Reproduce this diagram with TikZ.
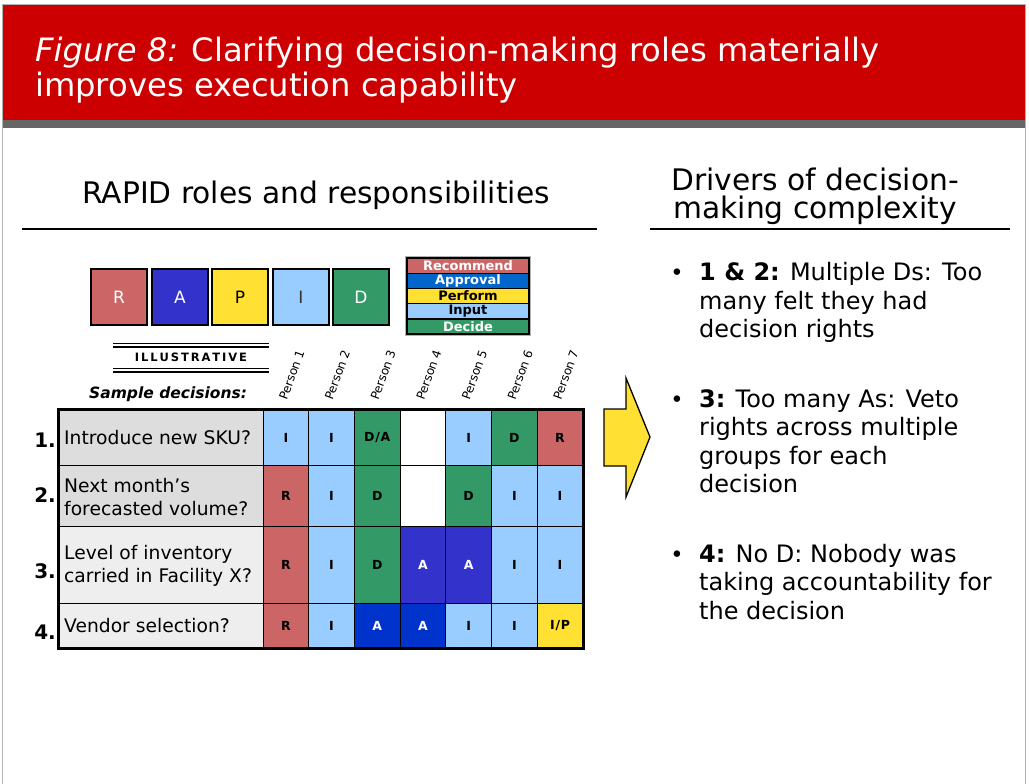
\documentclass[tikz,border=0pt]{standalone}
\usepackage{fontspec}
\setmainfont{DejaVu Sans}
\definecolor{bandred}{HTML}{CC0000}
\definecolor{barg}{HTML}{666666}
\definecolor{rR}{HTML}{CC6666}
\definecolor{rA}{HTML}{3333CC}
\definecolor{rAd}{HTML}{0033CC}
\definecolor{rAp}{HTML}{0066CC}
\definecolor{rP}{HTML}{FFE033}
\definecolor{rI}{HTML}{99CCFF}
\definecolor{rD}{HTML}{339966}
\definecolor{labA}{HTML}{DDDDDD}
\definecolor{labB}{HTML}{EEEEEE}
\tikzset{
  cellbox/.style={draw=black, line width=0.8pt, minimum width=45.7pt, inner sep=0pt, font=\fontsize{12.5}{13}\selectfont\bfseries},
  rapidbox/.style={draw=black, line width=1.5pt, minimum width=56pt, minimum height=56pt, inner sep=0pt, font=\fontsize{17}{20}\selectfont},
  legrow/.style={draw=black, line width=1.4pt, minimum width=122pt, minimum height=15.2pt, inner sep=0pt, font=\fontsize{13}{13}\selectfont\bfseries},
  labcell/.style={draw=black, line width=0.8pt, minimum width=204pt, inner sep=0pt},
  labtext/.style={anchor=west, align=left, inner sep=0pt, font=\fontsize{18.7}{23}\selectfont},
  rownum/.style={anchor=east, inner sep=0pt, font=\fontsize{20}{22}\selectfont\bfseries},
  person/.style={anchor=base west, rotate=70, inner sep=0pt, font=\fontsize{12}{12}\selectfont},
  bullettext/.style={anchor=base west, inner sep=0pt, font=\fontsize{24}{28.5}\selectfont},
  bulletdot/.style={anchor=base, inner sep=0pt, font=\fontsize{22.5}{28.5}\selectfont}
}
\newcommand{\tcell}[6]{\node[cellbox, fill=#5, minimum height={#4-#3}] (#1) at ({263+45.7*(#2-0.5)}, {(#3+#4)/2}) {#6};}
\begin{document}
\begin{tikzpicture}[x=1pt, y=-1pt]
\useasboundingbox (0,0) rectangle (1029,784);
% frame and title band
\draw[gray!60, line width=1pt] (2.5,4.5) rectangle (1025.5,800);
\fill[bandred] (3,5) rectangle (1025,120);
\fill[barg] (3,120) rectangle (1025,128);
\node[anchor=base west, inner sep=0pt, text=white, font=\fontsize{32.2}{35}\selectfont] (title1) at (35,62) {\itshape Figure 8:\upshape{} Clarifying decision-making roles materially};
\node[anchor=base west, inner sep=0pt, text=white, font=\fontsize{32.2}{35}\selectfont] (title2) at (35,97) {improves execution capability};
% headers
\node[anchor=base, inner sep=0pt, font=\fontsize{29.7}{34}\selectfont] (hleft) at (316,203) {RAPID roles and responsibilities};
\draw[line width=1.5pt] (22,229) -- (597,229);
\node[anchor=base, inner sep=0pt, font=\fontsize{29.7}{34}\selectfont] (hright1) at (815,190) {Drivers of decision-};
\node[anchor=base, inner sep=0pt, font=\fontsize{29.7}{34}\selectfont] (hright2) at (815,218) {making complexity};
\draw[line width=1.5pt] (650,229) -- (1010,229);
% RAPID boxes
\node[rapidbox, fill=rR, text=white] (bR) at (119,297) {R};
\node[rapidbox, fill=rA, text=white] (bA) at (180,297) {A};
\node[rapidbox, fill=rP, text=black] (bP) at (240,297) {P};
\node[rapidbox, fill=rI, text=black!80] (bI) at (301,297) {I};
\node[rapidbox, fill=rD, text=white] (bD) at (361,297) {D};
% legend
\node[legrow, fill=rR, text=white] (lR) at (468,265.6) {Recommend};
\node[legrow, fill=rAp, text=white] (lA) at (468,280.8) {Approval};
\node[legrow, fill=rP, text=black] (lP) at (468,296.0) {Perform};
\node[legrow, fill=rI, text=black] (lI) at (468,311.2) {Input};
\node[legrow, fill=rD, text=white] (lD) at (468,326.4) {Decide};
\draw[gray!60, line width=0.8pt] ([shift={(-1,-1)}]lR.north west) rectangle ([shift={(1,1)}]lD.south east);
% illustrative
\draw[line width=1.3pt] (113,343.5) -- (269,343.5);
\draw[line width=1.3pt] (113,347) -- (269,347);
\node[inner sep=0pt, font=\fontsize{11.5}{12}\selectfont\bfseries] (illus) at (191,357.5) {I\,L\,L\,U\,S\,T\,R\,A\,T\,I\,V\,E};
\draw[line width=1.3pt] (113,368.5) -- (269,368.5);
\draw[line width=1.3pt] (113,372) -- (269,372);
\node[anchor=base west, inner sep=0pt, font=\fontsize{15.5}{18}\selectfont\bfseries\itshape] (sample) at (89,398) {Sample decisions:};
% person labels
\foreach \i in {1,...,7} {
  \node[person] (p\i) at ({263+45.7*(\i-0.5)+1}, 401) {Person \i};
}
% label column
\node[labcell, fill=labA, minimum height=55pt] (lab1) at (161,437.5) {};
\node[labcell, fill=labA, minimum height=61pt] (lab2) at (161,495.5) {};
\node[labcell, fill=labB, minimum height=77pt] (lab3) at (161,564.5) {};
\node[labcell, fill=labB, minimum height=45pt] (lab4) at (161,625.5) {};
\node[labtext] (t1) at (64,438) {Introduce new SKU?};
\node[labtext] (t2) at (64,497) {Next month’s\\forecasted volume?};
\node[labtext] (t3) at (64,566) {Level of inventory\\carried in Facility X?};
\node[labtext] (t4) at (64,626) {Vendor selection?};
\node[rownum] (n1) at (56,440) {1.};
\node[rownum] (n2) at (56,495) {2.};
\node[rownum] (n3) at (56,571) {3.};
\node[rownum] (n4) at (56,632) {4.};
% row 1
\tcell{c11}{1}{410}{465}{rI}{I}
\tcell{c12}{2}{410}{465}{rI}{I}
\tcell{c13}{3}{410}{465}{rD}{D\kern0.8pt/\kern0.8pt A}
\tcell{c14}{4}{410}{465}{white}{}
\tcell{c15}{5}{410}{465}{rI}{I}
\tcell{c16}{6}{410}{465}{rD}{D}
\tcell{c17}{7}{410}{465}{rR}{R}
% row 2
\tcell{c21}{1}{465}{526}{rR}{R}
\tcell{c22}{2}{465}{526}{rI}{I}
\tcell{c23}{3}{465}{526}{rD}{D}
\tcell{c24}{4}{465}{526}{white}{}
\tcell{c25}{5}{465}{526}{rD}{D}
\tcell{c26}{6}{465}{526}{rI}{I}
\tcell{c27}{7}{465}{526}{rI}{I}
% row 3
\tcell{c31}{1}{526}{603}{rR}{R}
\tcell{c32}{2}{526}{603}{rI}{I}
\tcell{c33}{3}{526}{603}{rD}{D}
\tcell{c34}{4}{526}{603}{rA}{\textcolor{white}{A}}
\tcell{c35}{5}{526}{603}{rA}{\textcolor{white}{A}}
\tcell{c36}{6}{526}{603}{rI}{I}
\tcell{c37}{7}{526}{603}{rI}{I}
% row 4
\tcell{c41}{1}{603}{648}{rR}{R}
\tcell{c42}{2}{603}{648}{rI}{I}
\tcell{c43}{3}{603}{648}{rAd}{\textcolor{white}{A}}
\tcell{c44}{4}{603}{648}{rAd}{\textcolor{white}{A}}
\tcell{c45}{5}{603}{648}{rI}{I}
\tcell{c46}{6}{603}{648}{rI}{I}
\tcell{c47}{7}{603}{648}{rP}{I\kern0.8pt/\kern0.8pt P}
% outer table border
\draw[line width=2.8pt] (lab1.north west) rectangle (c47.south east);
% yellow arrow
\draw[fill=rP, line width=1.3pt, line join=miter] (604,409) -- (626,409) -- (626,378) -- (650,437) -- (626,497) -- (626,466) -- (604,466) -- cycle;
% bullets
\node[bulletdot] (d1) at (677,280) {•};
\node[bullettext] (b1a) at (699,280) {\textbf{1 \& 2:} Multiple Ds: Too};
\node[bullettext] (b1b) at (699,309) {many felt they had};
\node[bullettext] (b1c) at (699,337) {decision rights};
\node[bulletdot] (d2) at (677,407) {•};
\node[bullettext] (b2a) at (699,407) {\textbf{3:} Too many As: Veto};
\node[bullettext] (b2b) at (699,435.5) {rights across multiple};
\node[bullettext] (b2c) at (699,464) {groups for each};
\node[bullettext] (b2d) at (699,492.5) {decision};
\node[bulletdot] (d3) at (677,562) {•};
\node[bullettext] (b3a) at (699,562) {\textbf{4:} No D: Nobody was};
\node[bullettext] (b3b) at (699,590.5) {taking accountability for};
\node[bullettext] (b3c) at (699,619) {the decision};
\end{tikzpicture}
\end{document}
